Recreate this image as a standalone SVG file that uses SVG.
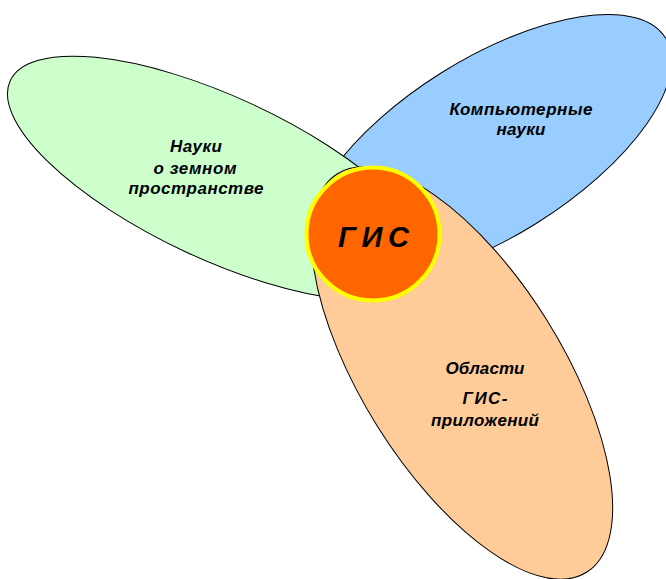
<svg xmlns="http://www.w3.org/2000/svg" width="666" height="579" viewBox="0 0 666 579">
<style>
.lobe{stroke:#000;stroke-width:1}
.lbl{font-family:"Liberation Sans",Arial,sans-serif;font-weight:bold;font-style:italic;font-size:17px;fill:#000;text-anchor:middle}
.gis{font-family:"Liberation Sans",Arial,sans-serif;font-weight:bold;font-style:italic;font-size:29px;fill:#000;text-anchor:middle}
</style>
<rect width="666" height="579" fill="#fff"/>
<g id="computer-science">
<ellipse class="lobe" cx="0" cy="0" rx="208" ry="89" fill="#99CCFF" transform="translate(489,148) rotate(-32)"/>
<text class="lbl" x="521" y="115" textLength="143" lengthAdjust="spacing">Компьютерные</text>
<text class="lbl" x="521" y="135" textLength="49" lengthAdjust="spacing">науки</text>
</g>
<g id="earth-sciences">
<ellipse class="lobe" cx="0" cy="0" rx="231" ry="81" fill="#CCFFCC" transform="translate(219.6,178.3) rotate(25)"/>
<text class="lbl" x="196" y="152" textLength="52" lengthAdjust="spacing">Науки</text>
<text class="lbl" x="195" y="174" textLength="83" lengthAdjust="spacing">о земном</text>
<text class="lbl" x="196" y="194" textLength="135" lengthAdjust="spacing">пространстве</text>
</g>
<g id="gis-applications">
<ellipse class="lobe" cx="0" cy="0" rx="235" ry="100" fill="#FFCC99" transform="translate(462,373) rotate(58)"/>
<text class="lbl" x="485" y="374" textLength="79" lengthAdjust="spacing">Области</text>
<text class="lbl" x="485" y="404" textLength="45" lengthAdjust="spacing">ГИС-</text>
<text class="lbl" x="485" y="426" textLength="108" lengthAdjust="spacing">приложений</text>
</g>
<g id="gis">
<circle cx="373" cy="234" r="66.5" fill="#FF6600" stroke="#FFFF00" stroke-width="4"/>
<text class="gis" x="373.5" y="247" textLength="71" lengthAdjust="spacing">Г И С</text>
</g>
<g id="connectors"/>
</svg>
